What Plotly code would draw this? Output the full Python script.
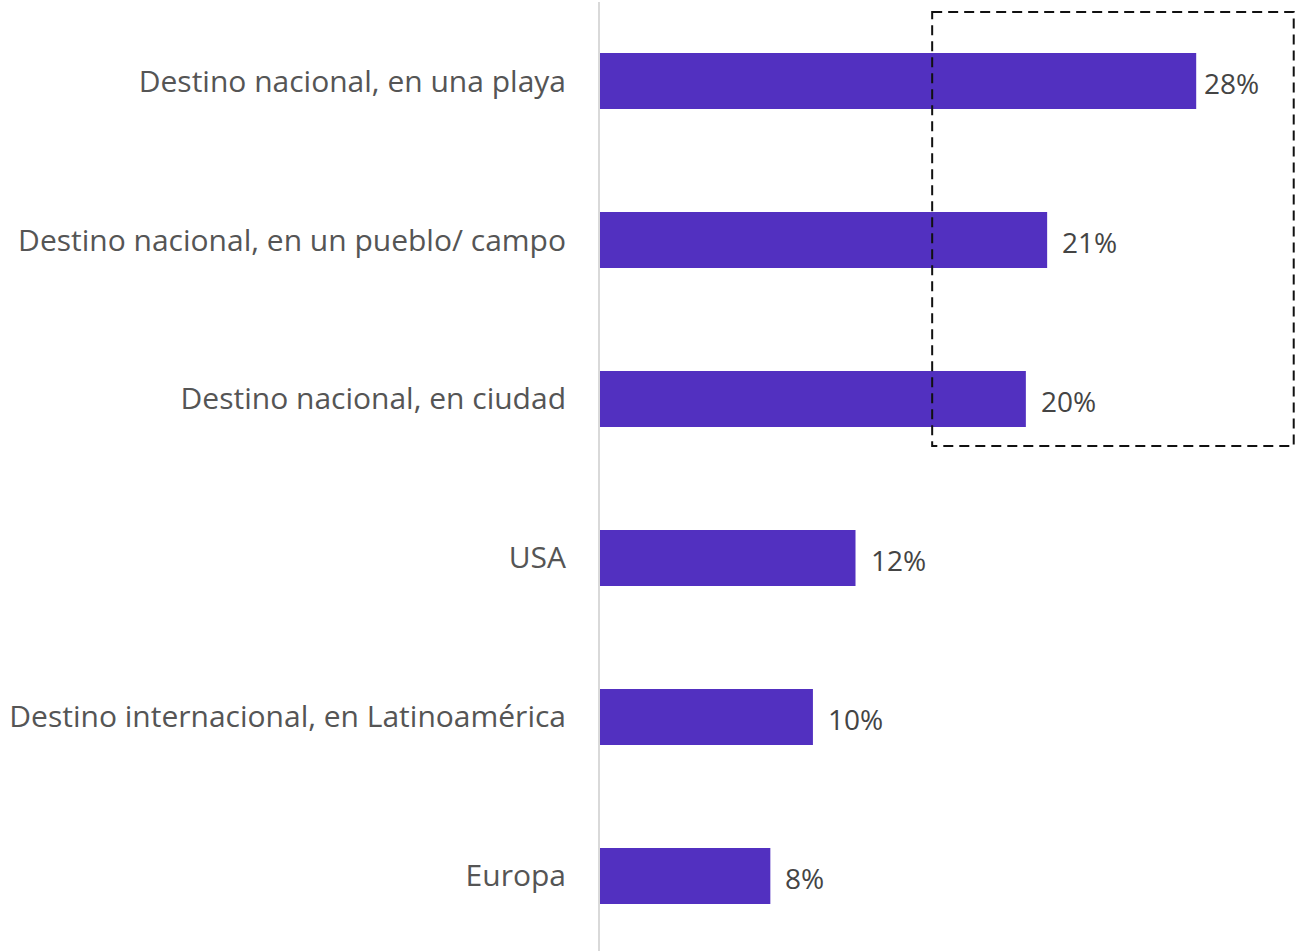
import plotly.graph_objects as go

# Destination categories (top to bottom) and share of respondents (%)
categories = [
    "Destino nacional, en una playa",
    "Destino nacional, en un pueblo/ campo",
    "Destino nacional, en ciudad",
    "USA",
    "Destino internacional, en Latinoamérica",
    "Europa",
]
shares = [28, 21, 20, 12, 10, 8]
value_labels = ["28%", "21%", "20%", "12%", "10%", "8%"]

BAR_COLOR = "#5230C0"
FONT = "Open Sans"

fig = go.Figure(
    go.Bar(
        x=shares,
        y=categories,
        orientation="h",
        marker=dict(color=BAR_COLOR, line=dict(width=0)),
        width=0.352,
        hoverinfo="skip",
    )
)

# value labels right of each bar (the longest one sits a little tighter
# so it stays inside the highlight box)
for i, (cat, val, lab) in enumerate(zip(categories, shares, value_labels)):
    fig.add_annotation(
        x=val, y=cat, text=lab, showarrow=False,
        xanchor="left", yanchor="middle",
        xshift=6 if i == 0 else 13, yshift=-2,
        font=dict(family=FONT, size=28, color="#444444"),
    )

# dashed highlight around the three domestic destinations
fig.add_shape(
    type="rect", xref="x", yref="y",
    x0=15.6, x1=32.58, y0=-0.434, y1=2.296,
    line=dict(color="#111111", width=2, dash="10px,6px"),
    fillcolor="rgba(0,0,0,0)",
)

fig.update_layout(
    width=1295, height=951,
    margin=dict(l=600, r=0, t=2, b=0),
    paper_bgcolor="white", plot_bgcolor="white",
    showlegend=False,
    font=dict(family=FONT),
    xaxis=dict(range=[0, 32.64], visible=False, showgrid=False, zeroline=False),
    yaxis=dict(
        categoryorder="array", categoryarray=categories,
        range=[5.472, -0.497],
        showgrid=False, zeroline=False,
        showline=True, linecolor="#d9d9d9", linewidth=2,
        ticks="", ticklabelstandoff=26,
        tickfont=dict(family=FONT, size=30, color="#555555"),
    ),
)

fig.write_html("out.html")
